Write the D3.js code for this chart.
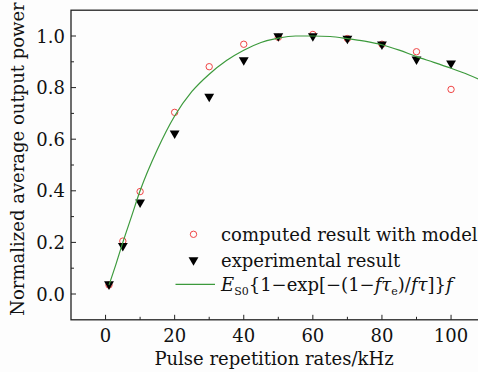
<!DOCTYPE html>
<html>
<head>
<meta charset="utf-8">
<script src="https://cdn.jsdelivr.net/npm/d3@7"></script>
<style>
  html, body { margin: 0; padding: 0; background: #fdfdfd; }
  svg { display: block; }
  text { font-family: "DejaVu Serif", serif; fill: #111; }
</style>
</head>
<body>
<svg id="chart" width="478" height="372"></svg>
<script>
// values
const rates = [1, 5, 10, 20, 30, 40, 50, 60, 70, 80, 90, 100];
const computed = [0.035, 0.205, 0.397, 0.704, 0.881, 0.968, 0.995, 1.006, 0.99, 0.968, 0.939, 0.793];
const experimental = [0.038, 0.187, 0.355, 0.623, 0.765, 0.907, 1.0, 1.0, 0.99, 0.968, 0.91, 0.894];
const fitX = [1, 3, 5, 7.5, 10, 15, 20, 25, 30, 35, 40, 45, 50, 55, 60, 65, 70, 75, 80, 85, 90, 95, 100, 105, 110];
const fitY = [0.035, 0.115, 0.2, 0.30, 0.40, 0.56, 0.69, 0.785, 0.852, 0.905, 0.945, 0.975, 0.992, 1.0, 1.0, 0.998, 0.99, 0.98, 0.966, 0.945, 0.92, 0.898, 0.875, 0.85, 0.82];
const xTicks = [0, 20, 40, 60, 80, 100];
const yTicks = [0.0, 0.2, 0.4, 0.6, 0.8, 1.0];
const legendLabels = ["computed result with model", "experimental result"];

const svg = d3.select("#chart");
const x = d3.scaleLinear().domain([-10, 110]).range([71, 485.6]);
const y = d3.scaleLinear().domain([-0.1, 1.1]).range([319.8, 10.2]);

// frame
svg.append("rect")
    .attr("x", x(-10)).attr("y", y(1.1))
    .attr("width", x(110) - x(-10)).attr("height", y(-0.1) - y(1.1))
    .attr("fill", "none").attr("stroke", "#222").attr("stroke-width", 1.3);

// ticks (inward)
const xMinor = d3.range(10, 100, 20);
const yMinor = d3.range(0.1, 1.05, 0.2);
const ax = svg.append("g").attr("stroke", "#222").attr("stroke-width", 1);
ax.selectAll(".xt").data(xTicks).enter().append("line")
    .attr("x1", d => x(d)).attr("x2", d => x(d))
    .attr("y1", y(-0.1)).attr("y2", y(-0.1) - 5);
ax.selectAll(".xm").data(xMinor).enter().append("line")
    .attr("x1", d => x(d)).attr("x2", d => x(d))
    .attr("y1", y(-0.1)).attr("y2", y(-0.1) - 3);
ax.selectAll(".yt").data(yTicks).enter().append("line")
    .attr("x1", x(-10)).attr("x2", x(-10) + 5)
    .attr("y1", d => y(d)).attr("y2", d => y(d));
ax.selectAll(".ym").data(yMinor).enter().append("line")
    .attr("x1", x(-10)).attr("x2", x(-10) + 3)
    .attr("y1", d => y(d)).attr("y2", d => y(d));

svg.selectAll(".xl").data(xTicks).enter().append("text")
    .attr("x", d => x(d)).attr("y", 342)
    .attr("text-anchor", "middle").attr("font-size", 18)
    .text(d => d);
svg.selectAll(".yl").data(yTicks).enter().append("text")
    .attr("x", 65).attr("y", d => y(d) + 6.5)
    .attr("text-anchor", "end").attr("font-size", 18)
    .text(d => d.toFixed(1));

// axis titles
svg.append("text").attr("x", 274).attr("y", 365)
    .attr("text-anchor", "middle").attr("font-size", 18)
    .text("Pulse repetition rates/kHz");
svg.append("text")
    .attr("transform", "translate(24,159) rotate(-90)")
    .attr("text-anchor", "middle").attr("font-size", 18)
    .text("Normalized average output power");

// markers
const tri = d3.symbol().type(d3.symbolTriangle).size(42);
svg.append("g").selectAll("circle").data(rates).enter().append("circle")
    .attr("cx", d => x(d)).attr("cy", (d, i) => y(computed[i]))
    .attr("r", 3.2).attr("fill", "none")
    .attr("stroke", "#f04545").attr("stroke-width", 1);
svg.append("g").selectAll("path").data(rates).enter().append("path")
    .attr("d", tri)
    .attr("transform", (d, i) => `translate(${x(d)},${y(experimental[i])}) rotate(180)`)
    .attr("fill", "#000");

// fitted curve
const line = d3.line().x(d => x(d[0])).y(d => y(d[1])).curve(d3.curveMonotoneX);
svg.append("path")
    .datum(fitX.map((v, i) => [v, fitY[i]]))
    .attr("d", line)
    .attr("fill", "none").attr("stroke", "#3c9a3c").attr("stroke-width", 1.2);

// legend
const lg = svg.append("g");
lg.append("circle").attr("cx", 193.5).attr("cy", 234.3).attr("r", 3.2)
    .attr("fill", "none").attr("stroke", "#f04545").attr("stroke-width", 1);
lg.append("path").attr("d", tri)
    .attr("transform", "translate(193.5,260) rotate(180)").attr("fill", "#000");
lg.append("line").attr("x1", 175.5).attr("x2", 215).attr("y1", 284.3).attr("y2", 284.3)
    .attr("stroke", "#3c9a3c").attr("stroke-width", 1.2);
lg.selectAll(".lt").data(legendLabels).enter().append("text")
    .attr("x", 221).attr("y", (d, i) => 240.5 + i * 26)
    .attr("font-size", 18).text(d => d);
const f = lg.append("text").attr("x", 221).attr("y", 291).attr("font-size", 18);
f.append("tspan").attr("font-style", "italic").text("E");
f.append("tspan").attr("font-size", 11).attr("dy", 4).text("S0");
f.append("tspan").attr("dy", -4).text("{1\u2212exp[\u2212(1\u2212");
f.append("tspan").attr("font-style", "italic").text("f\u03c4");
f.append("tspan").attr("font-size", 11).attr("dy", 4).text("e");
f.append("tspan").attr("dy", -4).text(")/");
f.append("tspan").attr("font-style", "italic").text("f\u03c4");
f.append("tspan").text("]}");
f.append("tspan").attr("font-style", "italic").text("f");
</script>
</body>
</html>
